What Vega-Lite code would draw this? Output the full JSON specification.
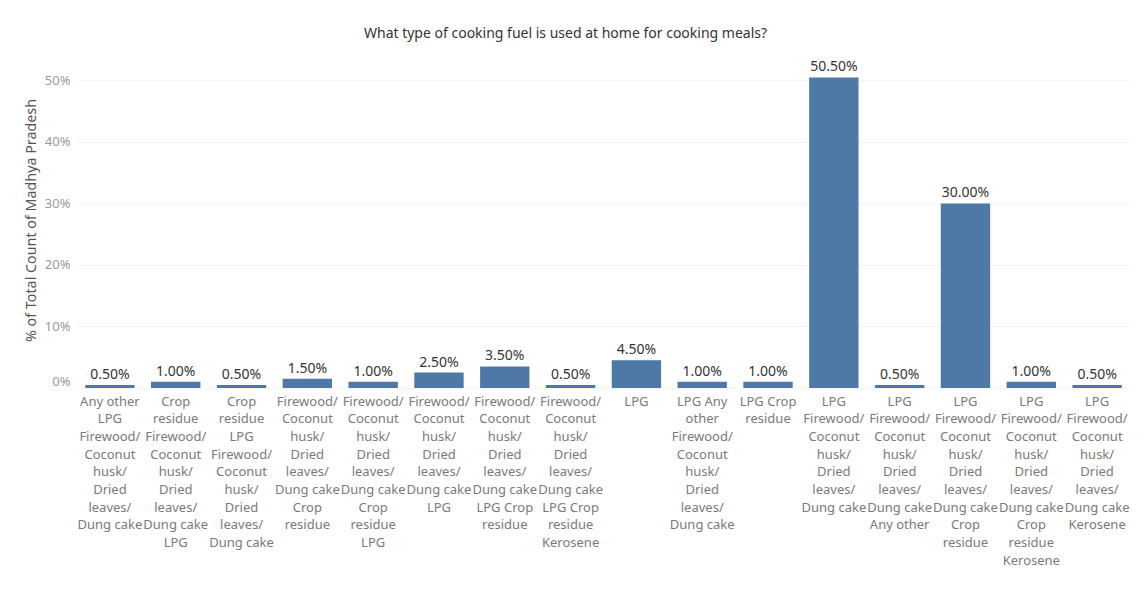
{
  "$schema": "https://vega.github.io/schema/vega-lite/v6.json",
  "autosize": {"type": "none"},
  "width": 1053,
  "height": 326,
  "padding": {"left": 77, "top": 62, "right": 18, "bottom": 204},
  "background": "white",
  "config": {
    "font": "Noto Sans",
    "view": {"stroke": null}
  },
  "title": {
    "text": "What type of cooking fuel is used at home for cooking meals?",
    "fontSize": 14,
    "fontWeight": "normal",
    "color": "#333333",
    "anchor": "middle",
    "offset": 19,
    "dx": -38
  },
  "data": {
    "values": [
      {"fuel": "Any other|LPG|Firewood/|Coconut|husk/|Dried|leaves/|Dung cake", "pct": 0.005},
      {"fuel": "Crop|residue|Firewood/|Coconut|husk/|Dried|leaves/|Dung cake|LPG", "pct": 0.01},
      {"fuel": "Crop|residue|LPG|Firewood/|Coconut|husk/|Dried|leaves/|Dung cake", "pct": 0.005},
      {"fuel": "Firewood/|Coconut|husk/|Dried|leaves/|Dung cake|Crop|residue", "pct": 0.015},
      {"fuel": "Firewood/|Coconut|husk/|Dried|leaves/|Dung cake|Crop|residue|LPG", "pct": 0.01},
      {"fuel": "Firewood/|Coconut|husk/|Dried|leaves/|Dung cake|LPG", "pct": 0.025},
      {"fuel": "Firewood/|Coconut|husk/|Dried|leaves/|Dung cake|LPG Crop|residue", "pct": 0.035},
      {"fuel": "Firewood/|Coconut|husk/|Dried|leaves/|Dung cake|LPG Crop|residue|Kerosene", "pct": 0.005},
      {"fuel": "LPG", "pct": 0.045},
      {"fuel": "LPG Any|other|Firewood/|Coconut|husk/|Dried|leaves/|Dung cake", "pct": 0.01},
      {"fuel": "LPG Crop|residue", "pct": 0.01},
      {"fuel": "LPG|Firewood/|Coconut|husk/|Dried|leaves/|Dung cake", "pct": 0.505},
      {"fuel": "LPG|Firewood/|Coconut|husk/|Dried|leaves/|Dung cake|Any other", "pct": 0.005},
      {"fuel": "LPG|Firewood/|Coconut|husk/|Dried|leaves/|Dung cake|Crop|residue", "pct": 0.30},
      {"fuel": "LPG|Firewood/|Coconut|husk/|Dried|leaves/|Dung cake|Crop|residue|Kerosene", "pct": 0.01},
      {"fuel": "LPG|Firewood/|Coconut|husk/|Dried|leaves/|Dung cake|Kerosene", "pct": 0.005}
    ]
  },
  "encoding": {
    "x": {
      "field": "fuel",
      "type": "nominal",
      "sort": null,
      "scale": {"paddingInner": 0.25, "paddingOuter": 0.125},
      "axis": {
        "title": null,
        "labelAngle": 0,
        "labelExpr": "split(datum.label, '|')",
        "labelFontSize": 13,
        "labelColor": "#7a7a7a",
        "labelLineHeight": 17.7,
        "labelBaseline": "top",
        "labelPadding": 7,
        "labelOverlap": false,
        "labelLimit": 200,
        "ticks": false,
        "domain": false,
        "grid": false
      }
    },
    "y": {
      "field": "pct",
      "type": "quantitative",
      "scale": {"domain": [0, 0.53], "nice": false},
      "axis": {
        "title": "% of Total Count of Madhya Pradesh",
        "titleFontSize": 14.3,
        "titleFontWeight": "normal",
        "titleColor": "#555555",
        "titlePadding": 6,
        "titleY": 158,
        "values": [0, 0.1, 0.2, 0.3, 0.4, 0.5],
        "format": ".0%",
        "labelFontSize": 13,
        "labelColor": "#9a9a9a",
        "labelPadding": 7,
        "labelFlush": true,
        "ticks": false,
        "domain": false,
        "grid": true,
        "gridColor": "#f2f2f2",
        "gridWidth": 1
      }
    }
  },
  "layer": [
    {"mark": {"type": "bar", "color": "#4e79a7"}},
    {
      "mark": {"type": "text", "baseline": "bottom", "dy": -3, "fontSize": 14, "color": "#333333"},
      "encoding": {
        "text": {"field": "pct", "type": "quantitative", "format": ".2%"}
      }
    }
  ]
}
